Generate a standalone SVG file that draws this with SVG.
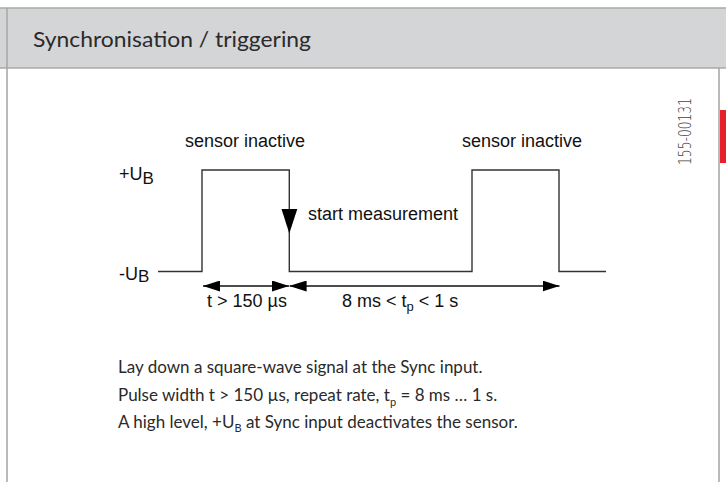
<svg xmlns="http://www.w3.org/2000/svg" width="726" height="482" viewBox="0 0 726 482">
<style>
.frame{stroke:#a9a9a9;stroke-width:1.6;fill:none}
.wave{stroke:#333;stroke-width:1.4;fill:none}
.dim{stroke:#111;stroke-width:1.3;fill:none}
.lbl{font-family:"Liberation Sans",Arial,sans-serif;font-size:18px;fill:#111}
.gill{font-family:Lato,"Open Sans",sans-serif;fill:#2a2a2a}
</style>
<defs>
<marker id="ah" viewBox="0 0 17 11" refX="17" refY="5.5" markerWidth="17" markerHeight="11" markerUnits="userSpaceOnUse" orient="auto-start-reverse">
<path d="M0,0 L17,5.5 L0,11 Z" fill="#000"/>
</marker>
</defs>
<rect width="726" height="482" fill="#fff"/>
<g id="header">
<rect x="0" y="8" width="726" height="60" fill="#d4d5d7"/>
<line class="frame" x1="0" y1="8" x2="726" y2="8"/>
<line class="frame" x1="0" y1="68" x2="726" y2="68"/>
<text class="gill" x="33" y="47" font-size="21" textLength="278" lengthAdjust="spacingAndGlyphs">Synchronisation / triggering</text>
</g>
<g id="frame">
<line class="frame" x1="7" y1="8" x2="7" y2="482"/>
<line class="frame" x1="719" y1="68" x2="719" y2="482"/>
<rect x="720" y="110" width="6" height="53" fill="#e8202a"/>
<text transform="translate(691,131.5) rotate(-90)" text-anchor="middle" font-family="'DejaVu Sans','Liberation Sans Narrow',sans-serif" font-weight="200" font-size="17" fill="#444" textLength="67" lengthAdjust="spacingAndGlyphs">155-00131</text>
</g>
<g id="signal">
<path class="wave" d="M158,271.5 H202 V170 H289.3 V271.5 H472 V170 H559 V271.5 H606"/>
<polygon points="281.5,209 297.3,209 289.3,233.5" fill="#000"/>
</g>
<g id="connectors">
<line class="dim" x1="203" y1="286" x2="289" y2="286" marker-start="url(#ah)" marker-end="url(#ah)"/>
<line class="dim" x1="289.6" y1="286" x2="559.5" y2="286" marker-start="url(#ah)" marker-end="url(#ah)"/>
</g>
<g id="labels">
<text class="lbl" x="119" y="180">+U<tspan font-size="17" dy="3.5">B</tspan></text>
<text class="lbl" x="119" y="280">-U<tspan font-size="17" dy="2">B</tspan></text>
<text class="lbl" x="185" y="147">sensor inactive</text>
<text class="lbl" x="462" y="147">sensor inactive</text>
<text class="lbl" x="308" y="220">start measurement</text>
<text class="lbl" x="207" y="307">t &gt; 150 µs</text>
<text class="lbl" x="342" y="307">8 ms &lt; t<tspan font-size="13" dy="4">p</tspan><tspan dy="-4"> &lt; 1 s</tspan></text>
</g>
<g id="description" class="gill" font-size="17">
<text x="118" y="373">Lay down a square-wave signal at the Sync input.</text>
<text x="118" y="401">Pulse width t &gt; 150 µs, repeat rate, t<tspan font-size="11" dy="5">p</tspan><tspan dy="-5"> = 8 ms … 1 s.</tspan></text>
<text x="118" y="428">A high level, +U<tspan font-size="11" dy="4">B</tspan><tspan dy="-4"> at Sync input deactivates the sensor.</tspan></text>
</g>
</svg>
